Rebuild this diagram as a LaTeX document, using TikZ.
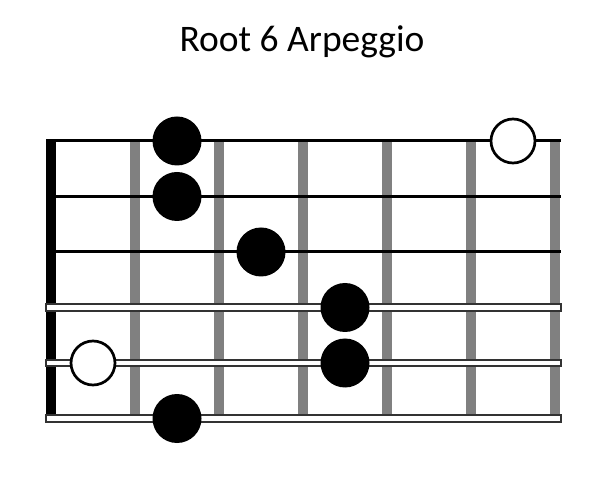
\documentclass[tikz,border=0pt]{standalone}
\usepackage{fontspec}
\setmainfont{Carlito}
\definecolor{fretgray}{HTML}{808080}
\definecolor{wiregray}{HTML}{333333}
\tikzset{
  fretline/.style={line width=10pt,color=fretgray},
  plainwire/.style={line width=3pt,color=black},
  woundwire/.style={draw=wiregray,fill=white,line width=2pt},
  fingerdot/.style={circle,fill=black,minimum size=49pt,inner sep=0pt},
  opendot/.style={circle,draw=black,fill=white,line width=2.7pt,minimum size=44pt,inner sep=0pt}
}
\begin{document}
\begin{tikzpicture}[x=1pt,y=1pt]
\pgfmathsetmacro{\kxstep}{84}
\pgfmathsetmacro{\kystep}{55.5}
\useasboundingbox(0,0)rectangle(594,482);
\draw(302,430)node[anchor=base,font=\fontsize{37.5}{45}\selectfont](title){Root 6 Arpeggio};
\foreach \x in {1,...,6}{\draw[fretline](51+\x*\kxstep,63.5)--++(0,5*\kystep);}
\foreach \s in {0,1,2}{\draw[plainwire](46,341-\s*\kystep)--(561,341-\s*\kystep);}
\fill(46,63.5)rectangle(56,342.5);
\foreach \s in {3,4,5}{\draw[woundwire](46,337.8-\s*\kystep)rectangle(561,344.2-\s*\kystep);}
\foreach \f/\s [count=\i] in {2/1,2/2,3/3,4/4,4/5,2/6}{\draw({51+(\f-0.5)*\kxstep},{341-(\s-1)*\kystep})node[fingerdot](dot\i){};}
\foreach \f/\s [count=\i] in {1/5,6/1}{\draw({51+(\f-0.5)*\kxstep},{341-(\s-1)*\kystep})node[opendot](open\i){};}
\end{tikzpicture}
\end{document}
